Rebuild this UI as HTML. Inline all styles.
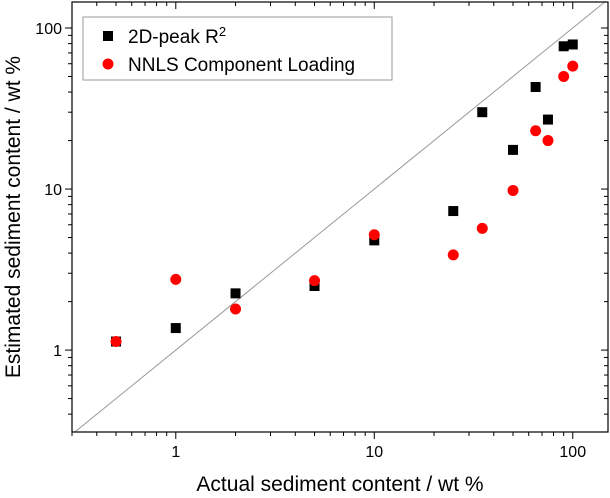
<!DOCTYPE html>
<html><head><meta charset="utf-8"><style>
body{margin:0;background:#fff;}
svg{display:block;font-family:"Liberation Sans",Arial,sans-serif;}
</style></head><body>
<svg id="chart" width="610" height="498"></svg>
<script>
const xValues=[0.5,1,2,5,10,25,35,50,65,75,90,100];
const peakValues=[1.13,1.37,2.25,2.5,4.8,7.3,30,17.5,43,27,77,79];
const nnlsValues=[1.13,2.75,1.8,2.7,5.2,3.9,5.7,9.8,23,20,50,58];
const xTickLabels=["1","10","100"];
const yTickLabels=["1","10","100"];
const NS="http://www.w3.org/2000/svg";
const svg=document.getElementById('chart');
const L=72,R=608,T=2,B=432;
const xmin=Math.log10(0.3),xmax=Math.log10(150.5);
const ymin=Math.log10(0.31),ymax=Math.log10(145);
function X(v){return L+(Math.log10(v)-xmin)/(xmax-xmin)*(R-L);}
function Y(v){return B-(Math.log10(v)-ymin)/(ymax-ymin)*(B-T);}
function el(t,a,p){const e=document.createElementNS(NS,t);for(const k in a)e.setAttribute(k,a[k]);(p||svg).appendChild(e);return e;}
const clip=el('clipPath',{id:'c'});el('rect',{x:L,y:T,width:R-L,height:B-T},clip);
const diag=el('line',{x1:X(0.3),y1:Y(0.3),x2:X(145),y2:Y(145),stroke:'#999','stroke-width':1});


diag.setAttribute('clip-path','url(#c)');
const fr=el('rect',{x:L,y:T,width:R-L,height:B-T,fill:'none',stroke:'#000','stroke-width':1.2});


const tickVals=[];
for(let d=0.1;d<=100;d*=10)for(let m=1;m<10;m++){const v=+(d*m).toPrecision(3);if(v>=0.3&&v<=150)tickVals.push({v,major:m===1});}
tickVals.forEach(t=>{const x=X(t.v),len=t.major?7:4;
el('line',{x1:x,y1:B,x2:x,y2:B+len,stroke:'#000'});
el('line',{x1:x,y1:T,x2:x,y2:T+len,stroke:'#000'});
if(t.v>=0.31&&t.v<=145){const y=Y(t.v);
el('line',{x1:L,y1:y,x2:L-len,y2:y,stroke:'#000'});
el('line',{x1:R,y1:y,x2:R-len,y2:y,stroke:'#000'});}});
xTickLabels.forEach(s=>{const t=el('text',{x:X(+s),y:B+25,'text-anchor':'middle','font-size':16});t.textContent=s;

});
yTickLabels.forEach(s=>{const t=el('text',{x:L-10,y:Y(+s)+6,'text-anchor':'end','font-size':16});t.textContent=s;

});
const xt=el('text',{x:340,y:491,'text-anchor':'middle','font-size':21});xt.textContent='Actual sediment content / wt %';


const yt=el('text',{x:0,y:0,'text-anchor':'middle','font-size':21,transform:'translate(20,217) rotate(-90)'});yt.textContent='Estimated sediment content / wt %';


xValues.forEach((xv,i)=>{const r=el('rect',{x:X(xv)-5,y:Y(peakValues[i])-5,width:10,height:10,fill:'#000'});

});
xValues.forEach((xv,i)=>{const c=el('circle',{cx:X(xv),cy:Y(nnlsValues[i]),r:5.5,fill:'#f00'});

});
const lg=el('g',{});


el('rect',{x:83,y:17,width:309,height:63,fill:'#fff',stroke:'#999'},lg);
el('rect',{x:103,y:31,width:10,height:10,fill:'#000'},lg);
el('circle',{cx:108,cy:64,r:5.5,fill:'#f00'},lg);
const t1=el('text',{x:128,y:43,'font-size':19},lg);t1.innerHTML='2D-peak R<tspan dy="-7" font-size="13">2</tspan>';


const t2=el('text',{x:128,y:71,'font-size':19},lg);t2.textContent='NNLS Component Loading';


</script>
</body></html>
